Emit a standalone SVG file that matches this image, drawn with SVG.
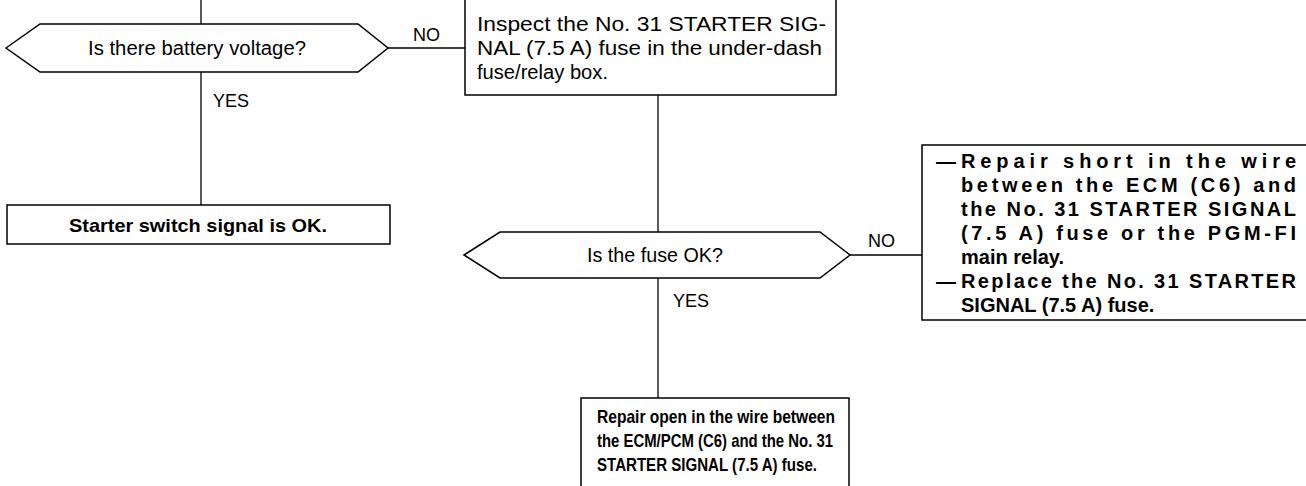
<svg xmlns="http://www.w3.org/2000/svg" width="1306" height="486" viewBox="0 0 1306 486">
<style>
.shape{fill:#fff;stroke:#000;stroke-width:1.5}
.line{stroke:#000;stroke-width:1.3;fill:none}
text{font-family:"Liberation Sans",Arial,Helvetica,sans-serif;fill:#000}
.t{font-size:20px}
.lbl{font-size:18px}
.b{font-size:19px;font-weight:bold}
.bj{font-size:20px;font-weight:bold}
</style>
<rect width="1306" height="486" fill="#fff"/>
<g id="connectors">
<line class="line" x1="201" y1="0" x2="201" y2="24"/>
<line class="line" x1="201" y1="72" x2="201" y2="205"/>
<line class="line" x1="388" y1="48" x2="465" y2="48"/>
<line class="line" x1="658" y1="95" x2="658" y2="232"/>
<line class="line" x1="850" y1="255" x2="922" y2="255"/>
<line class="line" x1="658" y1="278" x2="658" y2="398"/>
<text class="lbl" x="413" y="41">NO</text>
<text class="lbl" x="213" y="107">YES</text>
<text class="lbl" x="868" y="247">NO</text>
<text class="lbl" x="673" y="307">YES</text>
</g>
<g id="q1">
<polygon class="shape" points="6,48 40,24 358,24 388,48 358,72 40,72"/>
<text class="t" x="197" y="55" text-anchor="middle" textLength="218" lengthAdjust="spacingAndGlyphs">Is there battery voltage?</text>
</g>
<g id="inspect">
<rect class="shape" x="465" y="-1" width="371" height="96"/>
<text class="t" x="477" y="31" textLength="349" lengthAdjust="spacingAndGlyphs">Inspect the No. 31 STARTER SIG-</text>
<text class="t" x="477" y="55" textLength="345" lengthAdjust="spacingAndGlyphs">NAL (7.5 A) fuse in the under-dash</text>
<text class="t" x="477" y="79" textLength="131" lengthAdjust="spacingAndGlyphs">fuse/relay box.</text>
</g>
<g id="ok">
<rect class="shape" x="7" y="205" width="383" height="39"/>
<text class="b" x="198" y="232" text-anchor="middle" textLength="258" lengthAdjust="spacingAndGlyphs">Starter switch signal is OK.</text>
</g>
<g id="q2">
<polygon class="shape" points="464,255 500,232 820,232 850,255 820,278 500,278"/>
<text class="t" x="655" y="262" text-anchor="middle" textLength="136" lengthAdjust="spacingAndGlyphs">Is the fuse OK?</text>
</g>
<g id="repair-short">
<rect class="shape" x="922" y="145" width="390" height="175"/>
<text class="bj" x="936" y="168">—</text>
<text class="bj" x="961" y="168" textLength="335" lengthAdjust="spacing">Repair short in the wire</text>
<text class="bj" x="961" y="192" textLength="335" lengthAdjust="spacing">between the ECM (C6) and</text>
<text class="bj" x="961" y="216" textLength="335" lengthAdjust="spacing">the No. 31 STARTER SIGNAL</text>
<text class="bj" x="961" y="240" textLength="335" lengthAdjust="spacing">(7.5 A) fuse or the PGM-FI</text>
<text class="bj" x="961" y="264">main relay.</text>
<text class="bj" x="936" y="288">—</text>
<text class="bj" x="961" y="288" textLength="335" lengthAdjust="spacing">Replace the No. 31 STARTER</text>
<text class="bj" x="961" y="312">SIGNAL (7.5 A) fuse.</text>
</g>
<g id="repair-open">
<rect class="shape" x="581" y="398" width="268" height="92"/>
<text class="b" x="597" y="423" textLength="238" lengthAdjust="spacingAndGlyphs">Repair open in the wire between</text>
<text class="b" x="597" y="447" textLength="236" lengthAdjust="spacingAndGlyphs">the ECM/PCM (C6) and the No. 31</text>
<text class="b" x="597" y="471" textLength="220" lengthAdjust="spacingAndGlyphs">STARTER SIGNAL (7.5 A) fuse.</text>
</g>
</svg>
